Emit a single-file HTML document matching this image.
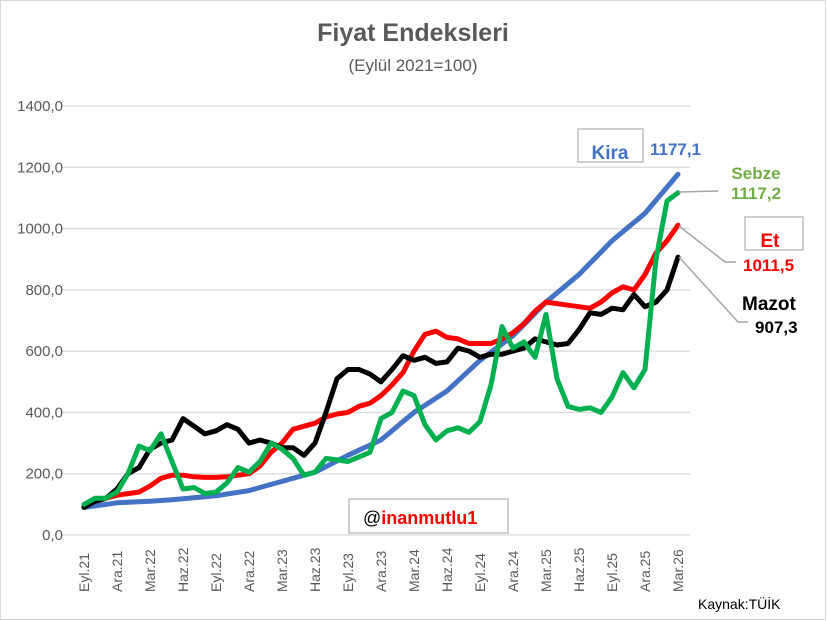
<!DOCTYPE html>
<html><head><meta charset="utf-8"><style>body{margin:0;background:#fff}svg{display:block}</style></head>
<body>
<svg id="s" width="827" height="621" xmlns="http://www.w3.org/2000/svg" font-family="Liberation Sans, sans-serif">
<rect x="0.5" y="0.5" width="825" height="619" fill="#fff" stroke="#d9d9d9"/>
<text x="413" y="41" text-anchor="middle" font-size="25" font-weight="bold" fill="#595959">Fiyat Endeksleri</text>
<text x="413" y="71" text-anchor="middle" font-size="17" fill="#595959">(Eylül 2021=100)</text>
<g id="grid" stroke="#d9d9d9" stroke-width="1.3"></g>
<g id="ylab" font-size="15" fill="#595959" text-anchor="end"></g>
<g id="xlab" font-size="14" fill="#595959"></g>
<g id="lines" fill="none" stroke-linejoin="round" stroke-linecap="round"></g>
<rect x="349" y="499" width="159" height="34" fill="#fff" stroke="#bfbfbf" stroke-width="1.5"/>
<text x="363" y="524" font-size="18" fill="#000">@<tspan fill="#ff0000" font-weight="bold">inanmutlu1</tspan></text>
<rect x="578" y="129" width="65" height="33" fill="none" stroke="#bfbfbf" stroke-width="1.5"/>
<text x="610" y="159" text-anchor="middle" font-size="19" font-weight="bold" fill="#4472c4">Kira</text>
<text x="650" y="155" font-size="17" font-weight="bold" fill="#4472c4">1177,1</text>
<text x="756" y="179" text-anchor="middle" font-size="17" font-weight="bold" fill="#70ad47">Sebze</text>
<text x="756" y="199" text-anchor="middle" font-size="17" font-weight="bold" fill="#70ad47">1117,2</text>
<polyline points="679,192 718,191" stroke="#a6a6a6" stroke-width="1.5" fill="none"/>
<rect x="745" y="217" width="58" height="33" fill="none" stroke="#bfbfbf" stroke-width="1.5"/>
<text x="770" y="247" text-anchor="middle" font-size="19" font-weight="bold" fill="#ff0000">Et</text>
<text x="743" y="271" font-size="17" font-weight="bold" fill="#ff0000">1011,5</text>
<polyline points="679,226 725,262 736,262" stroke="#a6a6a6" stroke-width="1.5" fill="none"/>
<text x="742" y="310" font-size="19" font-weight="bold" fill="#000">Mazot</text>
<text x="755" y="333" font-size="17" font-weight="bold" fill="#000">907,3</text>
<polyline points="679,257 738,322 748,322" stroke="#a6a6a6" stroke-width="1.5" fill="none"/>
<text x="698" y="609" font-size="14" fill="#000">Kaynak:TÜİK</text>
</svg>
<script>
const NS="http://www.w3.org/2000/svg";
const y=v=>535-v*(429/1400), x=i=>84+i*(594/54);
function el(p,t,a,txt){const e=document.createElementNS(NS,t);for(const k in a)e.setAttribute(k,a[k]);if(txt)e.textContent=txt;document.getElementById(p).appendChild(e);}
for(let v=0;v<=1400;v+=200){el("grid","line",{x1:62,x2:690,y1:y(v),y2:y(v)});el("ylab","text",{x:63,y:y(v)+5},(v).toFixed(1).replace(".",","));}
const L=["Eyl.21","Ara.21","Mar.22","Haz.22","Eyl.22","Ara.22","Mar.23","Haz.23","Eyl.23","Ara.23","Mar.24","Haz.24","Eyl.24","Ara.24","Mar.25","Haz.25","Eyl.25","Ara.25","Mar.26"];
L.forEach((t,k)=>{const xx=x(k*3)+5;el("xlab","text",{x:0,y:0,transform:`translate(${xx},${592}) rotate(-90)`},t);});
function interp(k){const r=[];for(let i=0;i<k.length-1;i++)for(let j=0;j<3;j++)r.push(k[i]+(k[i+1]-k[i])*j/3);r.push(k[k.length-1]);return r;}
const blue=interp([90,105,110,118,128,145,175,205,260,310,400,470,570,650,760,850,960,1050,1177]);
const black=[90,110,120,150,200,220,280,300,310,380,355,330,340,360,345,300,310,300,285,285,260,300,400,510,540,540,525,500,540,585,570,580,560,565,610,600,580,590,590,600,610,640,630,620,625,670,725,720,740,735,785,745,760,800,907];
const red=[95,110,120,130,135,140,160,185,195,195,190,188,188,190,195,200,225,270,300,345,355,365,385,395,400,420,430,455,490,530,600,655,665,645,640,625,625,625,640,660,690,730,760,755,750,745,740,760,790,810,800,850,920,960,1011];
const green=[100,120,120,140,200,290,275,330,240,150,155,135,140,170,220,205,240,300,280,250,195,205,250,245,240,255,270,380,400,470,455,360,310,340,350,335,370,490,680,610,630,580,720,510,420,410,415,400,450,530,480,540,900,1090,1117];
[[blue,"#4472c4"],[red,"#ff0000"],[black,"#000"],[green,"#00b050"]].forEach(([d,c])=>{el("lines","polyline",{points:d.map((v,i)=>x(i).toFixed(1)+","+y(v).toFixed(1)).join(" "),stroke:c,"stroke-width":5});});
</script>
</body></html>
